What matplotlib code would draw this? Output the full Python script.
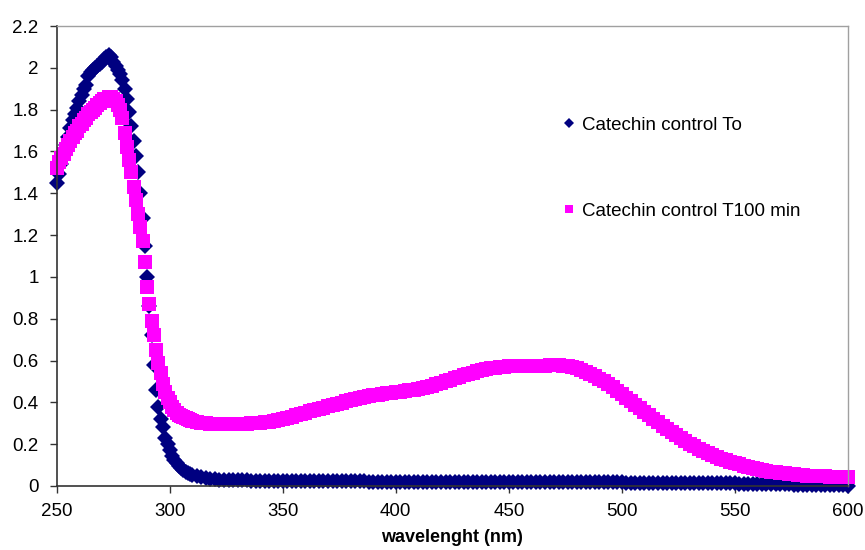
import numpy as np
import matplotlib
matplotlib.use("Agg")
import matplotlib.pyplot as plt
from matplotlib.ticker import FuncFormatter

plt.rcParams['font.family'] = ['Liberation Sans', 'DejaVu Sans']

# wavelengths: 1 nm steps up to 310, then 2 nm steps
wl = np.concatenate([np.arange(250, 311), np.arange(312, 601, 2)])

# Catechin control To (navy diamonds)
abs_t0 = [
    1.45, 1.49, 1.54, 1.59, 1.63, 1.67, 1.71, 1.75, 1.78, 1.81,
    1.84, 1.87, 1.90, 1.92, 1.96, 1.98, 1.99, 2.00, 2.01, 2.02,
    2.03, 2.04, 2.05, 2.06, 2.05, 2.03, 2.01, 1.99, 1.97, 1.94,
    1.90, 1.85, 1.79, 1.72, 1.65, 1.58, 1.50, 1.40, 1.28, 1.15,
    1.00, 0.86, 0.72, 0.58, 0.46, 0.38, 0.32, 0.28, 0.23, 0.20,
    0.17, 0.145, 0.125, 0.11, 0.095, 0.085, 0.075, 0.068, 0.062, 0.057,
    0.053,
    # 312 - 600 every 2 nm
    0.047, 0.042, 0.038, 0.035, 0.032, 0.030, 0.029, 0.028, 0.028, 0.027,
    0.027, 0.027, 0.026, 0.026, 0.026, 0.026, 0.025, 0.025, 0.025, 0.025,
    0.025, 0.024, 0.024, 0.024, 0.024, 0.024, 0.023, 0.023, 0.023, 0.023,
    0.023, 0.023, 0.022, 0.022, 0.022, 0.022, 0.022, 0.022, 0.021, 0.021,
    0.021, 0.021, 0.021, 0.021, 0.021, 0.021, 0.020, 0.020, 0.020, 0.020,
    0.020, 0.020, 0.020, 0.020, 0.020, 0.020, 0.020, 0.020, 0.019, 0.019,
    0.019, 0.019, 0.019, 0.019, 0.019, 0.019, 0.019, 0.019, 0.019, 0.019,
    0.019, 0.019, 0.019, 0.019, 0.018, 0.018, 0.018, 0.018, 0.018, 0.018,
    0.018, 0.018, 0.018, 0.018, 0.018, 0.017, 0.017, 0.017, 0.017, 0.017,
    0.017, 0.017, 0.017, 0.017, 0.017, 0.016, 0.016, 0.016, 0.016, 0.016,
    0.016, 0.016, 0.015, 0.015, 0.015, 0.015, 0.015, 0.014, 0.014, 0.014,
    0.014, 0.014, 0.013, 0.013, 0.013, 0.013, 0.012, 0.012, 0.012, 0.012,
    0.011, 0.011, 0.011, 0.010, 0.010, 0.010, 0.009, 0.009, 0.009, 0.008,
    0.008, 0.008, 0.007, 0.007, 0.007, 0.006, 0.006, 0.005, 0.005, 0.005,
    0.004, 0.004, 0.003, 0.003, 0.002,
]

# Catechin control T100 min (magenta squares)
abs_t100 = [
    1.52, 1.55, 1.57, 1.59, 1.61, 1.63, 1.65, 1.67, 1.69, 1.70,
    1.72, 1.73, 1.75, 1.76, 1.78, 1.79, 1.80, 1.81, 1.82, 1.83,
    1.84, 1.85, 1.85, 1.86, 1.86, 1.85, 1.84, 1.82, 1.80, 1.76,
    1.69, 1.62, 1.56, 1.50, 1.43, 1.37, 1.30, 1.24, 1.17, 1.07,
    0.95, 0.87, 0.79, 0.72, 0.65, 0.59, 0.54, 0.49, 0.45, 0.42,
    0.40, 0.38, 0.365, 0.35, 0.34, 0.335, 0.33, 0.325, 0.32, 0.315,
    0.31,
    # 312 - 600 every 2 nm
    0.305, 0.300, 0.300, 0.298, 0.297, 0.297, 0.297, 0.297, 0.297, 0.297,
    0.297, 0.298, 0.299, 0.300, 0.302, 0.305, 0.308, 0.312, 0.317, 0.322,
    0.327, 0.332, 0.338, 0.344, 0.350, 0.357, 0.363, 0.369, 0.375, 0.381,
    0.387, 0.393, 0.399, 0.405, 0.410, 0.416, 0.421, 0.426, 0.430, 0.434,
    0.437, 0.440, 0.443, 0.445, 0.448, 0.451, 0.454, 0.457, 0.461, 0.465,
    0.469, 0.474, 0.480, 0.487, 0.494, 0.501, 0.508, 0.515, 0.522, 0.529,
    0.536, 0.542, 0.548, 0.553, 0.558, 0.562, 0.566, 0.569, 0.571, 0.572,
    0.573, 0.573, 0.573, 0.573, 0.573, 0.574, 0.575, 0.576, 0.577, 0.578,
    0.578, 0.576, 0.573, 0.569, 0.563, 0.556, 0.547, 0.537, 0.526, 0.514,
    0.501, 0.487, 0.472, 0.456, 0.440, 0.423, 0.406, 0.389, 0.372, 0.355,
    0.338, 0.321, 0.304, 0.288, 0.272, 0.257, 0.243, 0.229, 0.216, 0.203,
    0.191, 0.179, 0.168, 0.158, 0.148, 0.139, 0.131, 0.123, 0.116, 0.109,
    0.103, 0.097, 0.091, 0.086, 0.081, 0.077, 0.073, 0.069, 0.066, 0.063,
    0.060, 0.058, 0.056, 0.054, 0.052, 0.050, 0.049, 0.048, 0.047, 0.046,
    0.045, 0.044, 0.043, 0.042, 0.041,
]

labels = ['Catechin control To', 'Catechin control T100 min']
x_ticks = [250, 300, 350, 400, 450, 500, 550, 600]
y_ticks = [0, 0.2, 0.4, 0.6, 0.8, 1, 1.2, 1.4, 1.6, 1.8, 2, 2.2]

fig = plt.figure(figsize=(8.65, 5.5), dpi=100)
ax = fig.add_axes([0.0656, 0.1164, 0.9146, 0.8363])

ax.plot(wl, abs_t0, linestyle='none', marker='D', markersize=8.3,
        color='#000080', markeredgewidth=0, clip_on=False, label=labels[0])
ax.plot(wl, abs_t100, linestyle='none', marker='s', markersize=9.6,
        color='#FF00FF', markeredgewidth=0, clip_on=False, label=labels[1])

ax.set_xlim(250, 600)
ax.set_ylim(0, 2.2)
ax.set_xticks(x_ticks)
ax.set_yticks(y_ticks)
ax.yaxis.set_major_formatter(FuncFormatter(lambda v, p: f'{v:g}'))
ax.tick_params(direction='out', length=5, width=1, color='#333333',
               labelsize=13.5)
ax.tick_params(axis='y', pad=8)
ax.tick_params(axis='x', pad=7)

for s in ['left', 'bottom']:
    ax.spines[s].set_color('#333333')
    ax.spines[s].set_linewidth(1.2)
for s in ['top', 'right']:
    ax.spines[s].set_color('#a0a0a0')
    ax.spines[s].set_linewidth(1)

ax.set_xlabel('wavelenght (nm)', fontsize=13, fontweight='bold', labelpad=6.5)

leg = ax.legend(loc='upper left', bbox_to_anchor=(0.638, 0.8035), frameon=False,
                fontsize=13.5, numpoints=1, handlelength=0.8, handletextpad=0.3,
                labelspacing=3.7, borderpad=0, borderaxespad=0, markerscale=0.62)

fig.savefig('out.png', dpi=100)
